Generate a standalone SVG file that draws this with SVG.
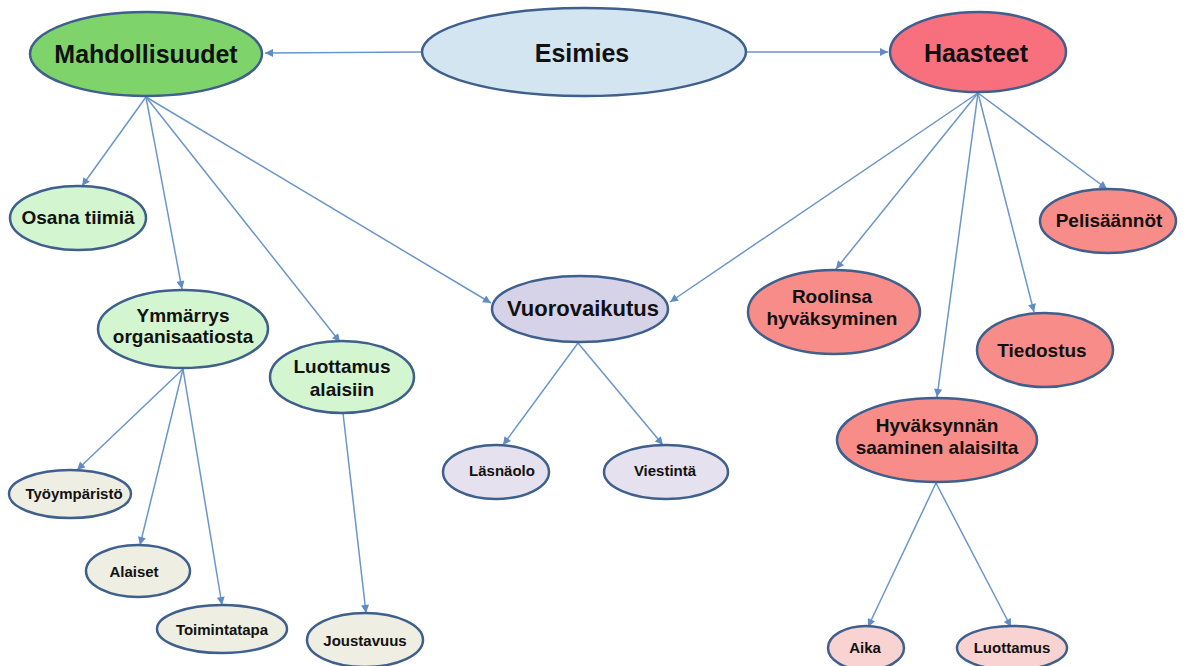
<svg xmlns="http://www.w3.org/2000/svg" width="1185" height="666" viewBox="0 0 1185 666">
<defs>
<marker id="ah" viewBox="0 0 10 10" refX="10" refY="5" markerWidth="9" markerHeight="8" markerUnits="userSpaceOnUse" orient="auto">
<path d="M0,0 L10,5 L0,10 z" fill="#5f8cc4"/>
</marker>
<style>
.n ellipse{stroke:#3f5f8c;stroke-width:2.5}
.n text{font-family:"Liberation Sans",Arial,sans-serif;font-weight:bold;fill:#111;text-anchor:middle}
.t1 text{font-size:25px}
.t2 text{font-size:19px}
.t3 text{font-size:15px}
.c line{stroke:#6a96c8;stroke-width:1.5;marker-end:url(#ah)}
.g1{fill:#7ed46a}.g2{fill:#d3f5d0}.b1{fill:#d2e5f1}.r1{fill:#f8707e}.r2{fill:#f88c88}.r3{fill:#f9d2d2}.p1{fill:#d6d2e8}.p2{fill:#e5e1ef}.y3{fill:#eeeee2}
</style>
</defs>
<rect width="1185" height="666" fill="#ffffff"/>
<g id="connectors" class="c">
<line x1="422" y1="52" x2="265" y2="53"/>
<line x1="747" y1="52" x2="888" y2="52"/>
<line x1="146" y1="97" x2="82" y2="186"/>
<line x1="146" y1="97" x2="182" y2="289"/>
<line x1="146" y1="97" x2="340" y2="342"/>
<line x1="146" y1="97" x2="491" y2="303"/>
<line x1="978" y1="93" x2="670" y2="302"/>
<line x1="978" y1="93" x2="836" y2="269"/>
<line x1="978" y1="93" x2="937" y2="397"/>
<line x1="978" y1="93" x2="1034" y2="312"/>
<line x1="978" y1="93" x2="1107" y2="189"/>
<line x1="183" y1="369" x2="77" y2="470"/>
<line x1="183" y1="369" x2="140" y2="545"/>
<line x1="183" y1="369" x2="222" y2="605"/>
<line x1="343" y1="413" x2="366" y2="613"/>
<line x1="578" y1="343" x2="503" y2="445"/>
<line x1="578" y1="343" x2="663" y2="445"/>
<line x1="936" y1="483" x2="868" y2="627"/>
<line x1="936" y1="483" x2="1011" y2="627"/>
</g>
<g id="mahdollisuudet" class="n t1"><ellipse class="g1" cx="146" cy="54" rx="116" ry="42"/><text x="146" y="63">Mahdollisuudet</text></g>
<g id="esimies" class="n t1"><ellipse class="b1" cx="584" cy="52" rx="162" ry="44"/><text x="582" y="62">Esimies</text></g>
<g id="haasteet" class="n t1"><ellipse class="r1" cx="978" cy="52" rx="88" ry="40"/><text x="976" y="62">Haasteet</text></g>
<g id="osana" class="n t2"><ellipse class="g2" cx="78" cy="218" rx="68" ry="32"/><text x="78" y="224">Osana tiimiä</text></g>
<g id="ymmarrys" class="n t2"><ellipse class="g2" cx="183" cy="329" rx="85" ry="39"/><text x="183" y="322">Ymmärrys</text><text x="183" y="343">organisaatiosta</text></g>
<g id="luottamus-alaisiin" class="n t2"><ellipse class="g2" cx="342" cy="377" rx="72" ry="36"/><text x="342" y="373">Luottamus</text><text x="342" y="396">alaisiin</text></g>
<g id="vuorovaikutus" class="n"><ellipse class="p1" cx="580" cy="309" rx="88" ry="33"/><text x="583" y="316" style="font-size:22px">Vuorovaikutus</text></g>
<g id="roolinsa" class="n t2"><ellipse class="r2" cx="834" cy="312" rx="86" ry="42"/><text x="832" y="303">Roolinsa</text><text x="832" y="325">hyväksyminen</text></g>
<g id="tiedostus" class="n t2"><ellipse class="r2" cx="1045" cy="350" rx="68" ry="37"/><text x="1042" y="357">Tiedostus</text></g>
<g id="pelisaannot" class="n t2"><ellipse class="r2" cx="1108" cy="221" rx="68" ry="32"/><text x="1109" y="227">Pelisäännöt</text></g>
<g id="hyvaksynnan" class="n t2"><ellipse class="r2" cx="937" cy="440" rx="100" ry="42"/><text x="937" y="432">Hyväksynnän</text><text x="937" y="454">saaminen alaisilta</text></g>
<g id="tyoymparisto" class="n t3"><ellipse class="y3" cx="70" cy="494" rx="61" ry="24"/><text x="74" y="499">Työympäristö</text></g>
<g id="alaiset" class="n t3"><ellipse class="y3" cx="138" cy="571" rx="52" ry="26"/><text x="134" y="577">Alaiset</text></g>
<g id="toimintatapa" class="n t3"><ellipse class="y3" cx="222" cy="629" rx="65" ry="24"/><text x="222" y="635">Toimintatapa</text></g>
<g id="joustavuus" class="n t3"><ellipse class="y3" cx="365" cy="640" rx="58" ry="27"/><text x="365" y="646">Joustavuus</text></g>
<g id="lasnaolo" class="n t3"><ellipse class="p2" cx="496" cy="472" rx="53" ry="27"/><text x="502" y="476">Läsnäolo</text></g>
<g id="viestinta" class="n t3"><ellipse class="p2" cx="666" cy="472" rx="62" ry="27"/><text x="665" y="476">Viestintä</text></g>
<g id="aika" class="n t3"><ellipse class="r3" cx="866" cy="648" rx="38" ry="22"/><text x="865" y="653">Aika</text></g>
<g id="luottamus" class="n t3"><ellipse class="r3" cx="1012" cy="648" rx="55" ry="22"/><text x="1012" y="653">Luottamus</text></g>
</svg>
